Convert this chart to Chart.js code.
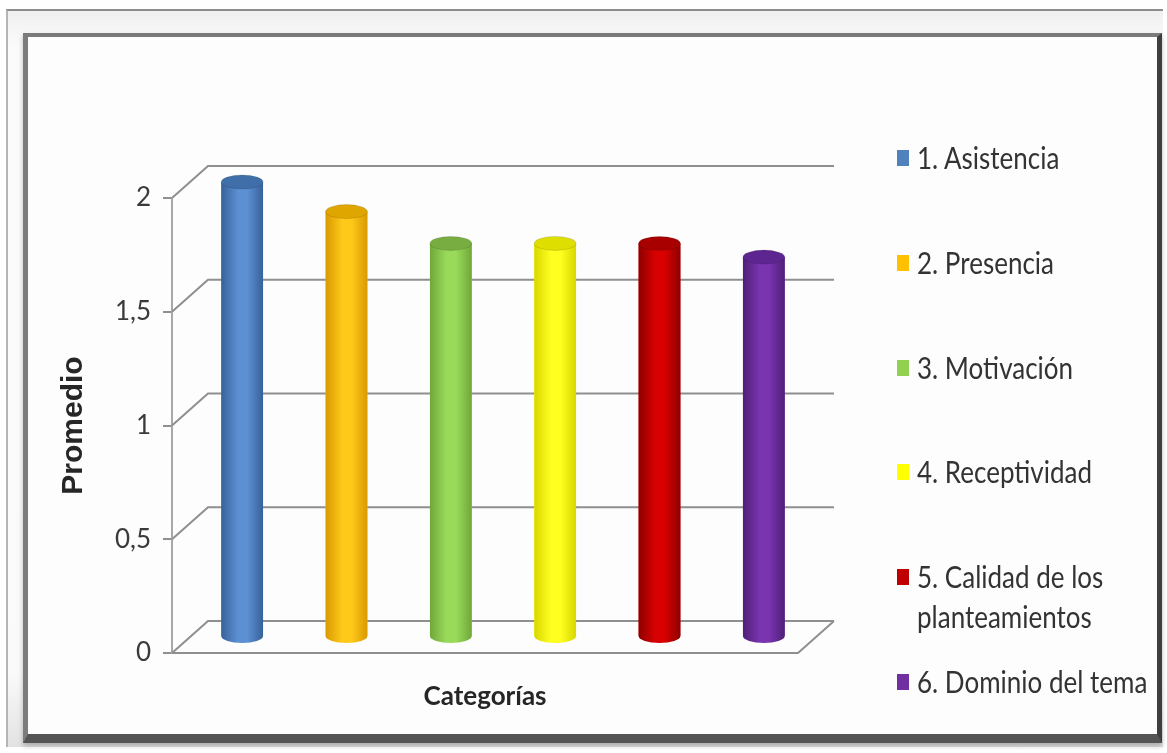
<!DOCTYPE html>
<html lang="es">
<head>
<meta charset="utf-8">
<title>Promedio por categorías</title>
<script src="https://cdn.jsdelivr.net/npm/chart.js@4.4.1/dist/chart.umd.min.js"></script>
<style>
  html, body { margin: 0; padding: 0; background: #ffffff; }
  body { width: 1167px; height: 753px; position: relative; overflow: hidden; font-family: Lato, "Open Sans", sans-serif; }
  .frame {
    position: absolute; left: 6px; top: 9px; width: 1157px; height: 738px;
    background: linear-gradient(to bottom, #f0f0f0 0%, #fbfbfb 5%, #fafafa 90%, #e2e2e2 100%);
    border-top: 2px solid #8d8d8d; border-left: 2px solid #b5b5b5;
    box-sizing: border-box;
  }
  .panel {
    position: absolute; left: 23px; top: 33px; width: 1139px; height: 710px;
    box-sizing: border-box; background: #fdfdfd;
    border-left: 5px solid #7c7c7c; border-top: 4px solid #7a7a7a;
    border-right: 5px solid #3e3e3e; border-bottom: 9px solid #555;
    box-shadow: 0 3px 5px rgba(0,0,0,0.25);
  }
  canvas { position: absolute; left: 0; top: 0; }
  .legend { position: absolute; left: 895px; top: 138px; width: 262px; }
  .legend .item { height: 104.8px; position: relative; }
  .legend .sw { position: absolute; left: 2px; top: 12px; width: 12px; height: 16px; }
  .legend .tx {
    position: absolute; left: 22px; top: 0; width: 240px;
    font-size: 26px; line-height: 35px; color: #333;
    transform: scaleY(1.15); transform-origin: 0 0;
  }
</style>
</head>
<body>
<div class="frame"></div>
<div class="panel"></div>
<canvas id="chart" width="1167" height="753"></canvas>
<div class="legend" id="legend"></div>
<script>
// Categories and their mean scores
const categories = [
  '1. Asistencia',
  '2. Presencia',
  '3. Motivación',
  '4. Receptividad',
  '5. Calidad de los planteamientos',
  '6. Dominio del tema'
];
const values = [2.0, 1.87, 1.73, 1.73, 1.73, 1.67];
const yTicks = [0, 0.5, 1, 1.5, 2];

// Cylinder shading per category: [edge, body, top]
const colors = ['#4f81bd', '#ffc000', '#92d050', '#ffff00', '#c00000', '#7030a0'];
const shades = [
  ['#37629a', '#5c90d2', '#3f6ea8'],
  ['#d99a00', '#ffc91a', '#e0a600'],
  ['#6fa83a', '#9ada5a', '#78ad42'],
  ['#d8d800', '#ffff20', '#dede00'],
  ['#8e0000', '#d80000', '#a80000'],
  ['#4f1f78', '#7a34b0', '#5c2590']
];

// depth of the 3D box (back wall offset from the front plane)
const DX = 36, DY = -32;

const box3d = {
  id: 'box3d',
  beforeDatasetsDraw(chart) {
    const { ctx, chartArea: a, scales: { y } } = chart;
    ctx.save();
    ctx.strokeStyle = '#8f8f8f';
    ctx.lineWidth = 2;
    // back wall lines and side-wall diagonals
    yTicks.forEach(v => {
      const py = y.getPixelForValue(v);
      ctx.beginPath();
      ctx.moveTo(a.left, py);
      ctx.lineTo(a.left + DX, py + DY);
      ctx.lineTo(a.right + DX, py + DY);
      ctx.stroke();
    });
    // floor
    const p0 = y.getPixelForValue(0);
    ctx.beginPath();
    ctx.moveTo(a.left, p0);
    ctx.lineTo(a.right, p0);
    ctx.lineTo(a.right + DX, p0 + DY);
    ctx.stroke();
    ctx.restore();
    // bars stand at mid-depth
    ctx.save();
    ctx.translate(DX / 2, DY / 2);
  },
  afterDatasetsDraw(chart) {
    const { ctx } = chart;
    const meta = chart.getDatasetMeta(0);
    meta.data.forEach((bar, i) => {
      const { x, y, base, width } = bar.getProps(['x', 'y', 'base', 'width'], true);
      const l = x - width / 2, r = x + width / 2, rx = width / 2, ry = 7;
      const [edge, body, top] = shades[i];
      const g = ctx.createLinearGradient(l, 0, r, 0);
      g.addColorStop(0, edge);
      g.addColorStop(0.4, body);
      g.addColorStop(0.62, body);
      g.addColorStop(1, edge);
      // body + rounded bottom
      ctx.beginPath();
      ctx.moveTo(l, y);
      ctx.lineTo(l, base);
      ctx.ellipse(x, base, rx, ry, 0, Math.PI, 0, true);
      ctx.lineTo(r, y);
      ctx.closePath();
      ctx.fillStyle = g;
      ctx.fill();
      // cap
      ctx.beginPath();
      ctx.ellipse(x, y, rx, ry, 0, 0, Math.PI * 2);
      ctx.fillStyle = top;
      ctx.fill();
      ctx.strokeStyle = 'rgba(0,0,0,0.12)';
      ctx.lineWidth = 1;
      ctx.stroke();
    });
    ctx.restore();
  }
};

Chart.defaults.font.family = 'Lato, "Open Sans", sans-serif';

new Chart(document.getElementById('chart'), {
  type: 'bar',
  data: {
    labels: categories,
    datasets: [{
      label: 'Promedio',
      data: values,
      backgroundColor: colors,
      borderWidth: 0,
      barPercentage: 0.4,
      categoryPercentage: 1,
      clip: false
    }]
  },
  options: {
    responsive: false,
    animation: false,
    events: [],
    layout: { padding: { left: 56, right: 369, top: 198, bottom: 41 } },
    plugins: { legend: { display: false }, tooltip: { enabled: false } },
    scales: {
      x: {
        ticks: { display: false },
        grid: { display: false },
        border: { display: false },
        title: {
          display: true, text: 'Categorías', color: '#262626', padding: 0,
          font: { size: 26, weight: 'bold' }
        },
        afterFit(s) { s.height = 59; }
      },
      y: {
        min: 0, max: 2,
        afterBuildTicks(s) { s.ticks = yTicks.map(v => ({ value: v })); },
        ticks: {
          color: '#3a3a3a',
          padding: 12,
          font: { size: 26 },
          callback: v => String(v).replace('.', ',')
        },
        grid: { drawOnChartArea: false, drawTicks: true, tickLength: 9, color: '#8f8f8f', lineWidth: 2 },
        border: { display: true, color: '#a8a8a8', width: 2 },
        title: {
          display: true, text: 'Promedio', color: '#262626', padding: 0,
          font: { family: '"Liberation Sans", sans-serif', size: 30, weight: 'bold' }
        },
        afterFit(s) { s.width = 116; }
      }
    }
  },
  plugins: [box3d]
});

// legend entries: one per category
const legend = document.getElementById('legend');
categories.forEach((name, i) => {
  const item = document.createElement('div');
  item.className = 'item';
  const sw = document.createElement('div');
  sw.className = 'sw';
  sw.style.background = colors[i];
  const tx = document.createElement('div');
  tx.className = 'tx';
  tx.textContent = name;
  item.appendChild(sw);
  item.appendChild(tx);
  legend.appendChild(item);
});
</script>
</body>
</html>
